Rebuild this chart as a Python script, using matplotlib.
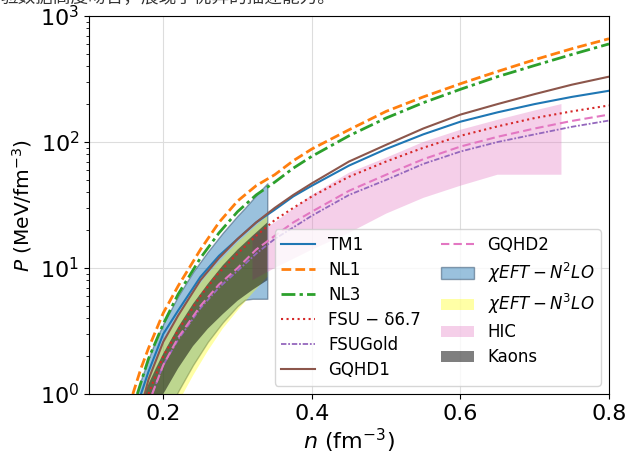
import numpy as np
import matplotlib
matplotlib.use("Agg")
import matplotlib.pyplot as plt

plt.rcParams['font.family'] = ['DejaVu Sans']

# ---------------- data ----------------
n_tm1 = [0.17, 0.18, 0.2, 0.22, 0.25, 0.275, 0.3, 0.325, 0.35, 0.375, 0.4, 0.45, 0.5, 0.55, 0.6, 0.65, 0.7, 0.75, 0.8]
p_tm1 = [1.0, 1.5, 3.0, 4.6, 8.5, 12.5, 17, 23, 29, 37, 45, 65, 88, 115, 145, 172, 200, 228, 255]

n_nl1 = [0.159, 0.17, 0.18, 0.2, 0.22, 0.25, 0.275, 0.3, 0.325, 0.35, 0.375, 0.4, 0.45, 0.5, 0.55, 0.6, 0.65, 0.7, 0.75, 0.8]
p_nl1 = [1.0, 1.6, 2.3, 4.4, 7.2, 14, 23, 34, 45, 55, 71, 88, 125, 175, 228, 290, 363, 450, 550, 660]

n_nl3 = [0.165, 0.18, 0.2, 0.22, 0.25, 0.275, 0.3, 0.325, 0.35, 0.375, 0.4, 0.45, 0.5, 0.55, 0.6, 0.65, 0.7, 0.75, 0.8]
p_nl3 = [1.0, 1.9, 3.6, 6.2, 12, 19, 28, 38, 48, 62, 77, 112, 155, 205, 262, 330, 405, 495, 600]

n_fsu = [0.18, 0.2, 0.22, 0.25, 0.275, 0.3, 0.325, 0.35, 0.375, 0.4, 0.45, 0.5, 0.55, 0.6, 0.65, 0.7, 0.75, 0.8]
p_fsu = [1.0, 2.0, 3.2, 6.0, 9.2, 13, 18, 24, 30, 37, 53, 70, 90, 112, 133, 155, 175, 195]

n_fsugold = [0.185, 0.2, 0.22, 0.25, 0.275, 0.3, 0.325, 0.35, 0.375, 0.4, 0.45, 0.5, 0.55, 0.6, 0.65, 0.7, 0.75, 0.8]
p_fsugold = [1.0, 1.7, 2.7, 4.8, 7.0, 9.5, 13, 17, 21, 26, 38, 50, 67, 84, 100, 115, 132, 148]

n_gqhd1 = [0.175, 0.18, 0.2, 0.22, 0.25, 0.275, 0.3, 0.325, 0.35, 0.375, 0.4, 0.45, 0.5, 0.55, 0.6, 0.65, 0.7, 0.75, 0.8]
p_gqhd1 = [1.0, 1.3, 2.6, 4.2, 8.0, 12, 17, 23, 30, 38, 47, 70, 95, 128, 165, 200, 240, 285, 330]

n_gqhd2 = [0.185, 0.2, 0.22, 0.25, 0.275, 0.3, 0.325, 0.35, 0.375, 0.4, 0.45, 0.5, 0.55, 0.6, 0.65, 0.7, 0.75, 0.8]
p_gqhd2 = [1.0, 1.7, 2.8, 5.0, 7.4, 10, 14, 18, 23, 28, 41, 55, 73, 92, 110, 128, 147, 165]

n_n2lo = [0.16, 0.17, 0.18, 0.19, 0.2, 0.22, 0.24, 0.26, 0.28, 0.3, 0.31, 0.32, 0.34]
up_n2lo = [0.8, 1.3, 1.9, 2.7, 3.6, 6.0, 9.3, 13.5, 19, 26, 30, 35, 47]
lo_n2lo = [0.2, 0.26, 0.35, 0.46, 0.6, 1.05, 1.7, 2.6, 3.7, 5.0, 5.6, 5.7, 5.7]

n_n3lo = [0.16, 0.17, 0.18, 0.19, 0.2, 0.22, 0.24, 0.26, 0.28, 0.3, 0.31, 0.32, 0.34]
up_n3lo = [0.6, 0.9, 1.4, 1.9, 2.6, 4.3, 6.4, 9.0, 12, 16, 18, 20.5, 26]
lo_n3lo = [0.15, 0.2, 0.3, 0.38, 0.5, 0.85, 1.4, 2.2, 3.3, 4.6, 5.4, 6.3, 8.5]

n_hic = [0.32, 0.35, 0.4, 0.45, 0.5, 0.55, 0.6, 0.65, 0.7, 0.736]
up_hic = [18, 23, 38, 57, 75, 100, 125, 150, 178, 200]
lo_hic = [8, 10, 14, 19, 27, 36, 45, 55, 55, 55]

n_kaon = [0.17, 0.18, 0.19, 0.2, 0.22, 0.24, 0.26, 0.28, 0.3, 0.32, 0.34]
up_kaon = [0.9, 1.2, 1.6, 2.1, 3.4, 5.2, 7.5, 10.5, 14, 18, 23]
lo_kaon = [0.4, 0.55, 0.75, 1.0, 1.6, 2.4, 3.3, 4.3, 5.5, 6.7, 8]

x_ticks = [0.2, 0.4, 0.6, 0.8]
x_tick_labels = ['0.2', '0.4', '0.6', '0.8']

caption = '验数据高度吻合，展现了优异的描述能力。'

# ---------------- figure ----------------
fig = plt.figure(figsize=(6.25, 4.53), dpi=100)
ax = fig.add_axes([0.1424, 0.1302, 0.832, 0.8345])

ax.plot(n_tm1, p_tm1, color='tab:blue', lw=1.5, label='TM1')
ax.plot(n_nl1, p_nl1, color='tab:orange', lw=2, ls=(0, (3.5, 1.5)), label='NL1')
ax.plot(n_nl3, p_nl3, color='tab:green', lw=2, ls=(0, (5, 1.5, 1.2, 1.5)), label='NL3')
ax.plot(n_fsu, p_fsu, color='tab:red', lw=1.5, ls=':', label='FSU − δ6.7')
ax.plot(n_fsugold, p_fsugold, color='tab:purple', lw=1.3, ls=(0, (3, 1, 1, 1)), label='FSUGold')
ax.plot(n_gqhd1, p_gqhd1, color='tab:brown', lw=1.5, label='GQHD1')
ax.plot(n_gqhd2, p_gqhd2, color='tab:pink', lw=1.5, ls=(0, (4, 2)), label='GQHD2')

ax.fill_between(n_n2lo, lo_n2lo, up_n2lo, facecolor='tab:blue', alpha=0.45,
                edgecolor='#1f3b5a', lw=1.0, label=r'$\chi EFT-N^2LO$')
ax.fill_between(n_n3lo, lo_n3lo, up_n3lo, facecolor='yellow', alpha=0.35,
                edgecolor='none', label=r'$\chi EFT-N^3LO$')
ax.fill_between(n_hic, lo_hic, up_hic, facecolor='tab:pink', alpha=0.35,
                edgecolor='none', label='HIC')
ax.fill_between(n_kaon, lo_kaon, up_kaon, facecolor='black', alpha=0.5,
                edgecolor='none', label='Kaons')

ax.set_yscale('log')
ax.set_xlim(0.1, 0.8)
ax.set_ylim(1, 1000)
ax.set_xticks(x_ticks)
ax.set_xticklabels(x_tick_labels)
ax.tick_params(axis='both', which='major', labelsize=16)
ax.grid(True, which='major', color='#dddddd', lw=0.8)
ax.set_axisbelow(True)

ax.set_xlabel(r'$n$ (fm$^{-3}$)', fontsize=16, labelpad=2)
ax.set_ylabel(r'$P$ (MeV/fm$^{-3}$)', fontsize=14.5, labelpad=4)

ax.legend(loc='lower right', ncol=2, fontsize=12, framealpha=0.8,
          handlelength=2.0, columnspacing=1.2, labelspacing=0.42)

fig.text(0.0, 0.993, caption, fontsize=12.7, color='#333333', va='baseline', ha='left',
         family=['Noto Sans CJK SC', 'DejaVu Sans'])

fig.savefig('out.png', dpi=100)
